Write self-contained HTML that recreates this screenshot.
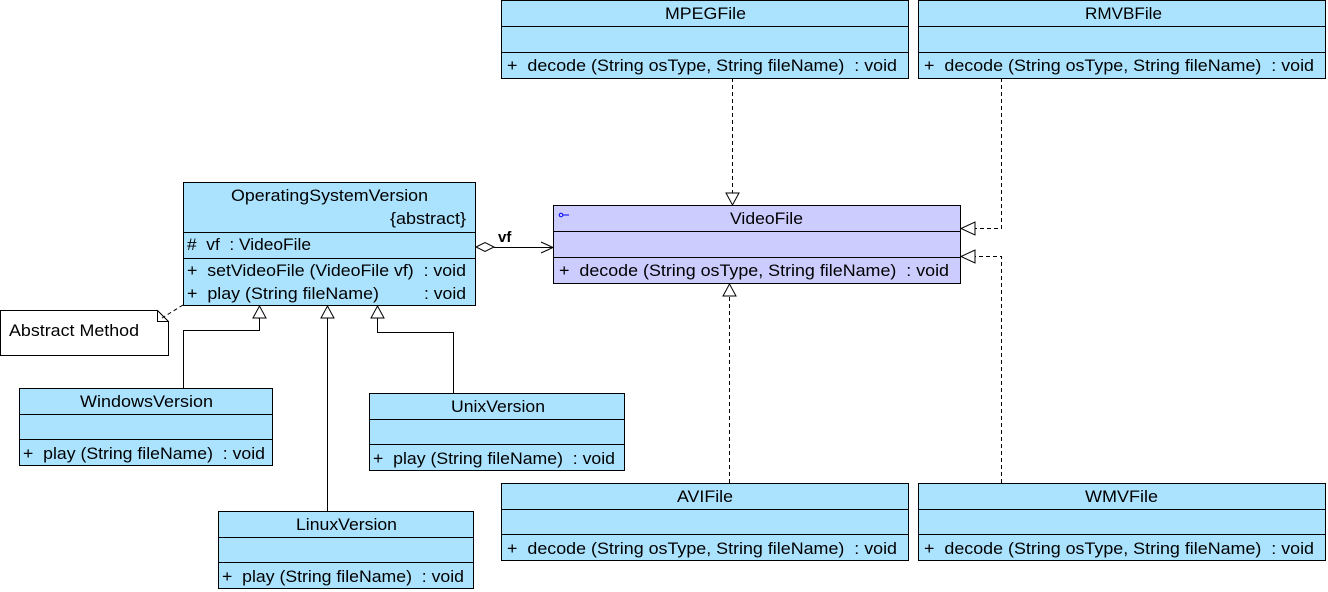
<!DOCTYPE html>
<html><head><meta charset="utf-8"><style>
body{margin:0;background:#fff;width:1328px;height:592px;overflow:hidden}
svg{display:block}
text{font-family:"Liberation Sans",sans-serif;font-size:16.5px;fill:#000}
</style></head><body>
<svg width="1328" height="592" viewBox="0 0 1328 592">
<g stroke="#000" stroke-width="1" shape-rendering="crispEdges">
<rect x="501.5" y="0.5" width="407" height="78" fill="#abe3ff"/>
<line x1="501" y1="26.5" x2="908" y2="26.5"/><line x1="501" y1="52.5" x2="908" y2="52.5"/>
<rect x="918.5" y="0.5" width="407" height="78" fill="#abe3ff"/>
<line x1="918" y1="26.5" x2="1325" y2="26.5"/><line x1="918" y1="52.5" x2="1325" y2="52.5"/>
<rect x="553.5" y="205.5" width="407" height="78" fill="#ccccff"/>
<line x1="553" y1="231.5" x2="960" y2="231.5"/><line x1="553" y1="257.5" x2="960" y2="257.5"/>
<rect x="501.5" y="483.5" width="407" height="77" fill="#abe3ff"/>
<line x1="501" y1="509.5" x2="908" y2="509.5"/><line x1="501" y1="534.5" x2="908" y2="534.5"/>
<rect x="918.5" y="483.5" width="407" height="77" fill="#abe3ff"/>
<line x1="918" y1="509.5" x2="1325" y2="509.5"/><line x1="918" y1="534.5" x2="1325" y2="534.5"/>
<rect x="183.5" y="182.5" width="292" height="123" fill="#abe3ff"/>
<line x1="183" y1="232.5" x2="475" y2="232.5"/><line x1="183" y1="258.5" x2="475" y2="258.5"/>
<rect x="19.5" y="388.5" width="253" height="77" fill="#abe3ff"/>
<line x1="19" y1="414.5" x2="272" y2="414.5"/><line x1="19" y1="439.5" x2="272" y2="439.5"/>
<rect x="369.5" y="393.5" width="255" height="77" fill="#abe3ff"/>
<line x1="369" y1="419.5" x2="624" y2="419.5"/><line x1="369" y1="444.5" x2="624" y2="444.5"/>
<rect x="218.5" y="511.5" width="255" height="77" fill="#abe3ff"/>
<line x1="218" y1="537.5" x2="473" y2="537.5"/><line x1="218" y1="562.5" x2="473" y2="562.5"/>
<path d="M0.5 310.5 H157.5 L168.5 321.5 V355.5 H0.5 Z" fill="#fff"/>
<path d="M157.5 310.5 V321.5 H168.5" fill="none"/>
</g>
<g stroke="#000" stroke-width="1" fill="none">
<g stroke-dasharray="4,3">
<path d="M732.5 78 V193"/>
<path d="M1001.5 78 V228.5 H975"/>
<path d="M1001.5 483 V256.5 H975"/>
<path d="M729.5 483 V296"/>
<path d="M183 305 L162 318"/>
</g>
<path d="M726 193 L739 193 L732.5 205 Z" fill="#fff"/>
<path d="M975 222 L975 235 L961 228.5 Z" fill="#fff"/>
<path d="M975 250 L975 263 L961 256.5 Z" fill="#fff"/>
<path d="M723 296 L736 296 L729.5 284 Z" fill="#fff"/>
<path d="M183.5 388 V330.5 H259.5 V318"/>
<path d="M327.5 511 V318"/>
<path d="M453.5 393 V332.5 H377.5 V318"/>
<path d="M253 318 L266 318 L259.5 306 Z" fill="#fff"/>
<path d="M321 318 L334 318 L327.5 306 Z" fill="#fff"/>
<path d="M371 318 L384 318 L377.5 306 Z" fill="#fff"/>
<path d="M476 247 L485 242.5 L494 247 L485 251.5 Z" fill="#fff"/>
<path d="M494 247.5 H553"/>
<path d="M541 242 L553 247.5 L541 253"/>
</g>
<text x="498" y="242" style="font-weight:bold;font-size:15px">vf</text>
<g stroke="#0000ff" fill="none"><circle cx="561" cy="215" r="1.8"/><line x1="563" y1="215" x2="569" y2="215"/></g>
<g lengthAdjust="spacingAndGlyphs">
<text x="665" y="19" textLength="81" lengthAdjust="spacingAndGlyphs">MPEGFile</text>
<text x="1085" y="19" textLength="77" lengthAdjust="spacingAndGlyphs">RMVBFile</text>
<text x="730" y="224" textLength="73" lengthAdjust="spacingAndGlyphs">VideoFile</text>
<text x="677" y="502" textLength="56" lengthAdjust="spacingAndGlyphs">AVIFile</text>
<text x="1085" y="502" textLength="73" lengthAdjust="spacingAndGlyphs">WMVFile</text>
<text x="231" y="201" textLength="197" lengthAdjust="spacingAndGlyphs">OperatingSystemVersion</text>
<text x="80" y="407" textLength="133" lengthAdjust="spacingAndGlyphs">WindowsVersion</text>
<text x="451" y="412" textLength="94" lengthAdjust="spacingAndGlyphs">UnixVersion</text>
<text x="296" y="530" textLength="101" lengthAdjust="spacingAndGlyphs">LinuxVersion</text>
<text x="390" y="224" textLength="76" lengthAdjust="spacingAndGlyphs">{abstract}</text>
<text x="507" y="71" textLength="390" lengthAdjust="spacingAndGlyphs">+&#160; decode (String osType, String fileName)&#160; : void</text>
<text x="924" y="71" textLength="390" lengthAdjust="spacingAndGlyphs">+&#160; decode (String osType, String fileName)&#160; : void</text>
<text x="559" y="276" textLength="390" lengthAdjust="spacingAndGlyphs">+&#160; decode (String osType, String fileName)&#160; : void</text>
<text x="507" y="554" textLength="390" lengthAdjust="spacingAndGlyphs">+&#160; decode (String osType, String fileName)&#160; : void</text>
<text x="924" y="554" textLength="390" lengthAdjust="spacingAndGlyphs">+&#160; decode (String osType, String fileName)&#160; : void</text>
<text x="187" y="250" textLength="124" lengthAdjust="spacingAndGlyphs">#&#160; vf&#160; : VideoFile</text>
<text x="187" y="276" textLength="279" lengthAdjust="spacingAndGlyphs">+&#160; setVideoFile (VideoFile vf)&#160; : void</text>
<text x="187" y="299" textLength="192" lengthAdjust="spacingAndGlyphs">+&#160; play (String fileName)</text>
<text x="424" y="299" textLength="42" lengthAdjust="spacingAndGlyphs">: void</text>
<text x="23" y="459" textLength="242" lengthAdjust="spacingAndGlyphs">+&#160; play (String fileName)&#160; : void</text>
<text x="373" y="464" textLength="242" lengthAdjust="spacingAndGlyphs">+&#160; play (String fileName)&#160; : void</text>
<text x="222" y="582" textLength="242" lengthAdjust="spacingAndGlyphs">+&#160; play (String fileName)&#160; : void</text>
<text x="9" y="336" textLength="130" lengthAdjust="spacingAndGlyphs">Abstract Method</text>
</g>
</svg>
</body></html>
